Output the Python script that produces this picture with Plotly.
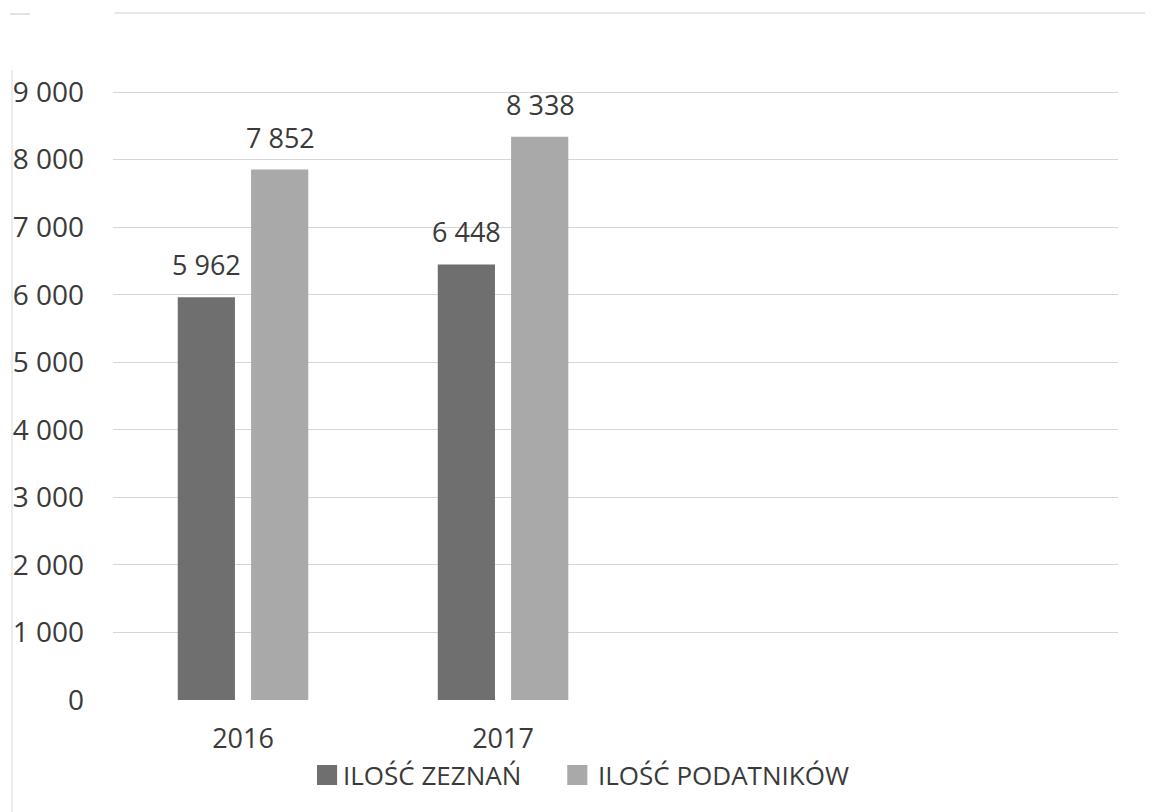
import plotly.graph_objects as go

categories = ["2016", "2017"]
zeznan = [5962, 6448]
podatnikow = [7852, 8338]
series_names = ["ILOŚĆ ZEZNAŃ", "ILOŚĆ PODATNIKÓW"]
series_colors = ["#6f6f6f", "#a9a9a9"]
y_ticks = [0, 1000, 2000, 3000, 4000, 5000, 6000, 7000, 8000, 9000]
y_tick_labels = ["0", "1 000", "2 000", "3 000", "4 000", "5 000", "6 000", "7 000", "8 000", "9 000"]

def fmt(v):
    return f"{v:,}".replace(",", " ")

FONT = "Open Sans, sans-serif"
TXT = "#3a3a3a"

fig = go.Figure()
for name, vals, col in zip(series_names, [zeznan, podatnikow], series_colors):
    fig.add_trace(go.Bar(x=categories, y=vals, name=name,
                         marker=dict(color=col, line=dict(width=0))))

annotations = []
for vals, shift in [(zeznan, -37), (podatnikow, 37)]:
    for i, v in enumerate(vals):
        annotations.append(dict(x=i, y=v, xref="x", yref="y", text=fmt(v),
                                showarrow=False, xshift=shift, yanchor="bottom",
                                yshift=12, font=dict(size=27, color=TXT, family=FONT)))

# custom legend (text as annotations, squares as shapes)
# plot area: x 113..1118, y 89..700 (page px)
PH = 611.0
def py(Y):
    return (700 - Y) / PH

leg_sq = [(0.203, 0.223), (0.452, 0.472)]
leg_tx = [0.227, 0.4806]
shapes = []
for (x0, x1), tx, name, col in zip(leg_sq, leg_tx, series_names, series_colors):
    shapes.append(dict(type="rect", xref="paper", yref="paper", x0=x0, x1=x1,
                       y0=py(765), y1=py(785), fillcolor=col, line=dict(width=0)))
    annotations.append(dict(x=tx, y=py(775), xref="paper", yref="paper", text=name,
                            showarrow=False, xanchor="left", yanchor="middle",
                            font=dict(size=26, color=TXT, family=FONT)))

shapes += [
    dict(type="line", xref="paper", yref="paper", x0=0.002, x1=1.035,
         y0=py(13), y1=py(13), line=dict(color="#d0d0d0", width=1)),
    dict(type="line", xref="paper", yref="paper", x0=-0.1025, x1=-0.0826,
         y0=py(14), y1=py(14), line=dict(color="#c8c8c8", width=1)),
    dict(type="line", xref="paper", yref="paper", x0=-0.1005, x1=-0.1005,
         y0=py(70), y1=py(812), line=dict(color="#d8d8d8", width=1)),
]

fig.update_layout(
    width=1145, height=804,
    margin=dict(l=105, r=35, t=81, b=112, autoexpand=False),
    paper_bgcolor="white", plot_bgcolor="white",
    barmode="group", bargap=0.436, bargroupgap=0.22,
    font=dict(family=FONT, color=TXT),
    showlegend=False,
    xaxis=dict(type="category", range=[-0.5, 3.365], showgrid=False, zeroline=False,
               showline=False, ticks="", tickfont=dict(size=27, color=TXT),
               ticklabelstandoff=20, automargin=False),
    yaxis=dict(range=[0, 9045], tickvals=y_ticks, ticktext=y_tick_labels,
               showgrid=True, gridcolor="#d6d6d6", gridwidth=1, zeroline=False,
               showline=False, ticks="", tickfont=dict(size=28, color=TXT),
               ticklabelstandoff=28, automargin=False),
    annotations=annotations,
    shapes=shapes,
)

fig.write_html("out.html")
